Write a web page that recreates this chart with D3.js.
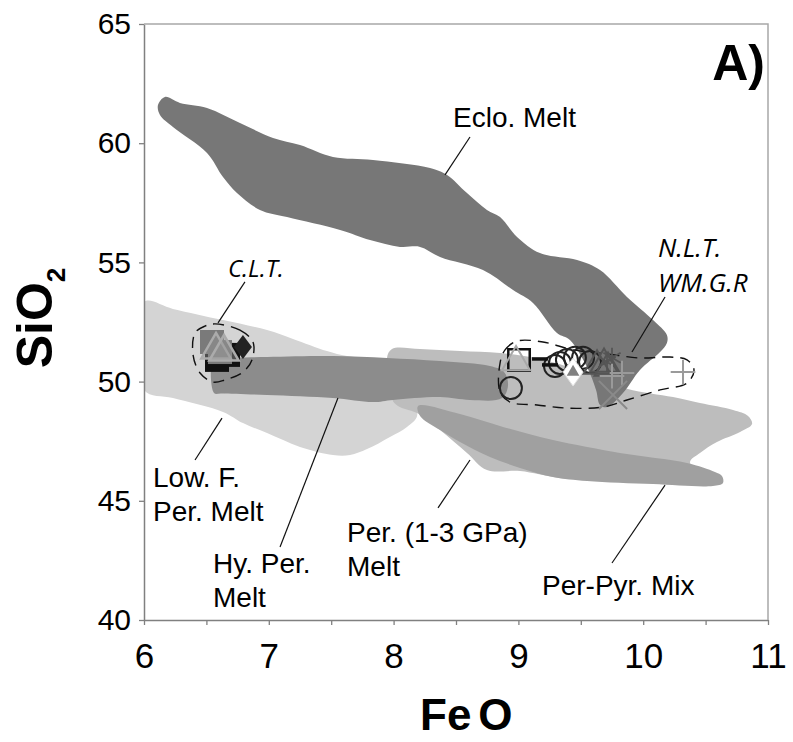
<!DOCTYPE html>
<html>
<head>
<meta charset="utf-8">
<script src="https://cdn.jsdelivr.net/npm/d3@7"></script>
<style>
  html, body { margin: 0; padding: 0; background: #fff; }
  svg { display: block; }
</style>
</head>
<body>
<div id="chart"></div>
<script>
// field outlines as [FeO, SiO2] pairs
const lowFPerMelt = [
  [6.0, 53.34], [6.232, 53.05], [6.633, 52.58], [6.986, 52.16], [7.194, 51.79],
  [7.466, 51.28], [7.627, 51.07], [7.891, 50.95], [8.091, 50.82], [8.131, 49.65],
  [8.188, 48.56], [8.107, 48.10], [7.971, 47.68], [7.787, 47.17], [7.651, 46.92],
  [7.514, 46.92], [7.25, 47.26], [6.986, 47.84], [6.793, 48.26], [6.633, 48.73],
  [6.232, 49.31], [6.0, 49.65]
];
const per13GPaMelt = [
  [7.947, 50.99], [7.987, 51.37], [8.212, 51.37], [8.532, 51.28], [8.853, 51.20],
  [9.173, 50.95], [9.494, 50.45], [9.87, 49.70], [10.239, 49.35], [10.455, 49.10],
  [10.72, 48.81], [10.84, 48.56], [10.872, 48.22], [10.776, 47.89], [10.591, 47.47],
  [10.455, 47.01], [10.375, 46.63], [10.455, 45.96], [10.135, 45.79], [9.814, 45.83],
  [9.333, 45.96], [9.013, 46.25], [8.748, 46.29], [8.588, 47.01], [8.372, 47.97],
  [8.188, 48.68], [8.035, 48.98], [7.987, 49.27], [7.995, 50.07]
];
const perPyrMix = [
  [8.196, 48.98], [8.532, 48.64], [8.877, 48.10], [9.277, 47.55], [9.814, 47.01],
  [10.351, 46.59], [10.575, 46.21], [10.631, 46.04], [10.639, 45.75], [10.559, 45.62],
  [10.079, 45.70], [9.55, 45.83], [9.277, 46.00], [9.013, 46.38], [8.772, 46.84],
  [8.532, 47.47], [8.372, 47.97], [8.212, 48.56]
];
const hyPerMelt = [
  [6.553, 50.95], [6.61, 50.98], [6.986, 51.03], [7.514, 51.07], [7.947, 50.99],
  [8.372, 50.86], [8.772, 50.65], [8.885, 50.40], [8.917, 49.86], [8.869, 49.31],
  [8.612, 49.23], [8.372, 49.35], [7.995, 49.23], [7.835, 49.14], [7.514, 49.31],
  [6.986, 49.44], [6.62, 49.50], [6.561, 49.52]
];
const ecloMelt = [
  [6.168, 61.94], [6.288, 61.69], [6.505, 61.48], [6.769, 60.85], [7.034, 60.22],
  [7.25, 59.92], [7.514, 59.42], [7.835, 59.30], [8.292, 58.96], [8.428, 58.67],
  [8.588, 57.91], [8.748, 57.20], [8.853, 56.90], [8.989, 56.07], [9.173, 55.39],
  [9.47, 55.10], [9.654, 54.68], [9.87, 53.55], [10.079, 52.58], [10.19, 51.95],
  [10.19, 51.62], [10.135, 51.24], [9.974, 50.49], [9.838, 49.52], [9.71, 48.93],
  [9.654, 49.02], [9.622, 49.65], [9.55, 50.61], [9.413, 51.75], [9.309, 52.04],
  [9.117, 53.30], [8.957, 53.84], [8.716, 54.68], [8.372, 55.23], [8.212, 55.65],
  [8.051, 55.65], [7.811, 55.94], [7.571, 56.36], [7.146, 56.90], [6.929, 57.20],
  [6.745, 57.91], [6.633, 58.58], [6.505, 59.59], [6.232, 60.68], [6.128, 61.18],
  [6.112, 61.60]
];

// dashed group outlines
const cltOutline = [
  [6.569, 52.42], [6.769, 52.16], [6.873, 51.66], [6.865, 50.91], [6.793, 50.40],
  [6.649, 50.07], [6.553, 49.98], [6.449, 50.36], [6.393, 51.12], [6.409, 52.04],
  [6.489, 52.33]
];
const nltOutline = [
  [8.853, 50.78], [8.893, 51.33], [8.989, 51.70], [9.197, 51.66], [9.438, 51.33],
  [9.71, 51.16], [9.974, 50.99], [10.215, 51.03], [10.351, 50.91], [10.407, 50.49],
  [10.351, 49.94], [10.135, 49.65], [9.87, 49.23], [9.678, 48.93], [9.389, 48.89],
  [9.149, 49.02], [8.933, 49.14], [8.853, 49.56]
];

// samples
const cltBlackSquares = [[6.585, 50.91], [6.673, 51.12]];
const cltGraySquares = [[6.545, 51.66], [6.609, 51.24]];
const cltDiamonds = [[6.793, 51.45]];
const cltTriangles = [[6.577, 51.33], [6.641, 51.24]];

const nltSquares = [[9.005, 50.91]];
const nltLightTriangles = [[8.981, 50.82]];
const nltCircles = [[8.94, 49.73], [9.293, 50.65], [9.333, 50.78], [9.389, 50.91],
  [9.453, 51.0], [9.518, 51.0], [9.574, 50.82]];
const nltDashes = [[9.173, 50.95], [9.253, 50.70]];
const nltDiamonds = [[9.438, 50.40]];
const nltDarkTriangles = [[9.63, 50.66], [9.686, 50.74], [9.718, 50.57]];
const nltStars = [[9.71, 50.82], [9.75, 51.0]];
const nltPluses = [[9.75, 50.23], [9.83, 50.36], [10.319, 50.40]];
const nltCrosses = [[9.758, 49.44]];

const xTicks = [6, 6.5, 7, 7.5, 8, 8.5, 9, 9.5, 10, 10.5, 11];
const yTicks = [40, 45, 50, 55, 60, 65];

// labels: text lines, anchor, leader line from -> to
const labels = [
  { lines: ["Eclo. Melt"], at: [8.476, 60.68], leader: [[8.612, 60.26], [8.412, 58.67]] },
  { lines: ["Low. F.", "Per. Melt"], at: [6.072, 45.58], leader: [[6.409, 46.71], [6.625, 48.47]] },
  { lines: ["Hy. Per.", "Melt"], at: [6.553, 41.97], leader: [[7.09, 43.06], [7.554, 49.31]] },
  { lines: ["Per. (1-3 GPa)", "Melt"], at: [7.627, 43.27], leader: [[8.356, 44.70], [8.612, 46.71]] },
  { lines: ["Per-Pyr. Mix"], at: [9.189, 41.05], leader: [[9.75, 42.39], [10.175, 45.66]] }
];
const groupLabels = [
  { lines: ["C.L.T."], at: [6.673, 54.39], leader: [[6.809, 54.18], [6.593, 52.46]], size: 24 },
  { lines: ["N.L.T.", "WM.G.R"], at: [10.119, 55.23], leader: [[10.175, 53.55], [9.91, 51.24]], size: 26 }
];

const W = 793, H = 742;
const FONT = "'Liberation Sans', Arial, Helvetica, sans-serif";
const ITALIC = "'Open Sans', 'Noto Sans', sans-serif";

const svg = d3.select("#chart").append("svg")
  .attr("width", W).attr("height", H)
  .style("background", "#fff");

const x = d3.scaleLinear().domain([6, 11]).range([144, 768]);
const y = d3.scaleLinear().domain([40, 65]).range([620, 24]);

svg.append("defs").append("clipPath").attr("id", "plot")
  .append("rect")
  .attr("x", x(6)).attr("y", y(65))
  .attr("width", x(11) - x(6)).attr("height", y(40) - y(65));

const area = d3.line()
  .x(d => x(d[0])).y(d => y(d[1]))
  .curve(d3.curveCatmullRomClosed.alpha(0.5));

const fields = svg.append("g").attr("clip-path", "url(#plot)");
[
  [lowFPerMelt, "#d4d4d4"],
  [per13GPaMelt, "#bdbdbd"],
  [perPyrMix, "#a0a0a0"],
  [hyPerMelt, "#8c8c8c"],
  [ecloMelt, "#777777"]
].forEach(([pts, col]) => {
  fields.append("path").attr("d", area(pts)).attr("fill", col);
});

// dashed outlines
[cltOutline, nltOutline].forEach(pts => {
  svg.append("path").attr("d", area(pts))
    .attr("fill", "none").attr("stroke", "#111")
    .attr("stroke-width", 1.4).attr("stroke-dasharray", "11,7");
});

// markers
function plot(pts, type, size, fill, stroke, sw) {
  svg.append("g").selectAll("path").data(pts).join("path")
    .attr("transform", d => `translate(${x(d[0])},${y(d[1])})`)
    .attr("d", d3.symbol(type, size))
    .attr("fill", fill).attr("stroke", stroke || "none")
    .attr("stroke-width", sw || 0);
}
function rhombus(pts, hw, hh, fill, stroke, sw) {
  svg.append("g").selectAll("path").data(pts).join("path")
    .attr("d", d => {
      const cx = x(d[0]), cy = y(d[1]);
      return `M${cx},${cy - hh}L${cx + hw},${cy}L${cx},${cy + hh}L${cx - hw},${cy}Z`;
    })
    .attr("fill", fill).attr("stroke", stroke || "none").attr("stroke-width", sw || 0);
}

plot(cltBlackSquares, d3.symbolSquare, 576, "#111");
plot(cltGraySquares, d3.symbolSquare, 576, "#7a7a7a");
plot(cltTriangles, d3.symbolTriangle2, 620, "rgba(150,150,150,0.45)", "#ababab", 2.5);
rhombus(cltDiamonds, 9, 12, "#222");

plot(nltSquares, d3.symbolSquare, 460, "none", "#111", 2.5);
plot(nltLightTriangles, d3.symbolTriangle2, 560, "none", "#a8a8a8", 2);
plot(nltCircles, d3.symbolCircle, 380, "none", "#222", 2);
svg.append("g").selectAll("path").data(nltDashes).join("path")
  .attr("d", d => `M${x(d[0]) - 8},${y(d[1])}h16`)
  .attr("stroke", "#111").attr("stroke-width", 3.5);
plot(nltDarkTriangles, d3.symbolTriangle2, 520, "none", "#555", 2);
plot(nltStars, d3.symbolAsterisk, 280, "none", "#555", 1.8);
rhombus(nltDiamonds, 10, 14, "#fff", "#e0e0e0", 1);
plot(nltDiamonds, d3.symbolTriangle, 70, "#808080");
plot(nltPluses, d3.symbolPlus, 200, "none", "#9a9a9a", 2);
plot(nltCrosses, d3.symbolTimes, 520, "none", "#8a8a8a", 2);

// axes
const axisColor = "#808080";
const gx = svg.append("g")
  .attr("transform", `translate(0,${y(40)})`)
  .call(d3.axisBottom(x).tickValues(xTicks).tickSize(5).tickSizeOuter(0)
    .tickPadding(18).tickFormat(d => d % 1 === 0 ? d : ""));
gx.attr("font-size", 35).attr("font-family", FONT);
gx.selectAll("text").attr("fill", "#000");
gx.selectAll("line").attr("stroke", axisColor).attr("stroke-width", 1.3);
gx.select(".domain").attr("stroke", axisColor).attr("stroke-width", 1.5);

const gy = svg.append("g")
  .attr("transform", `translate(${x(6)},0)`)
  .call(d3.axisLeft(y).tickValues(yTicks).tickSize(5).tickSizeOuter(0).tickPadding(8));
gy.attr("font-size", 30).attr("font-family", FONT);
gy.selectAll("text").attr("fill", "#000");
gy.selectAll("line").attr("stroke", axisColor).attr("stroke-width", 1.3);
gy.select(".domain").attr("stroke", axisColor).attr("stroke-width", 1.5);

svg.append("path")
  .attr("d", `M${x(6)},${y(65)}H${x(11)}V${y(40)}`)
  .attr("fill", "none").attr("stroke", "#a8a8a8").attr("stroke-width", 1.5);

// leader lines and labels
function annotate(list, size, family, style, lead) {
  list.forEach(l => {
    svg.append("line")
      .attr("x1", x(l.leader[0][0])).attr("y1", y(l.leader[0][1]))
      .attr("x2", x(l.leader[1][0])).attr("y2", y(l.leader[1][1]))
      .attr("stroke", "#111").attr("stroke-width", 1.2);
    const t = svg.append("text")
      .attr("x", x(l.at[0])).attr("y", y(l.at[1]))
      .attr("font-size", l.size || size).attr("font-family", family)
      .attr("font-style", style).attr("fill", "#000");
    l.lines.forEach((s, i) => {
      t.append("tspan").attr("x", x(l.at[0])).attr("dy", i ? lead : 0).text(s);
    });
  });
}
annotate(labels, 28, FONT, "normal", 34);
annotate(groupLabels, 24, ITALIC, "italic", 35);

// axis titles and panel label
svg.append("text")
  .attr("transform", `translate(52,${(y(65) + y(40)) / 2 - 4}) rotate(-90)`)
  .attr("text-anchor", "middle")
  .attr("font-family", FONT).attr("font-weight", "bold").attr("font-size", 50)
  .call(t => {
    t.append("tspan").text("SiO");
    t.append("tspan").attr("font-size", 26).attr("dy", 13).text("2");
  });

svg.append("text")
  .attr("x", 420).attr("y", 730)
  .attr("font-family", FONT).attr("font-weight", "bold").attr("font-size", 44)
  .call(t => {
    t.append("tspan").text("Fe");
    t.append("tspan").attr("dx", 7).text("O");
  });

svg.append("text")
  .attr("x", x(11) - 3).attr("y", 80)
  .attr("text-anchor", "end")
  .attr("font-family", FONT).attr("font-weight", "bold").attr("font-size", 50)
  .text("A)");
</script>
</body>
</html>
